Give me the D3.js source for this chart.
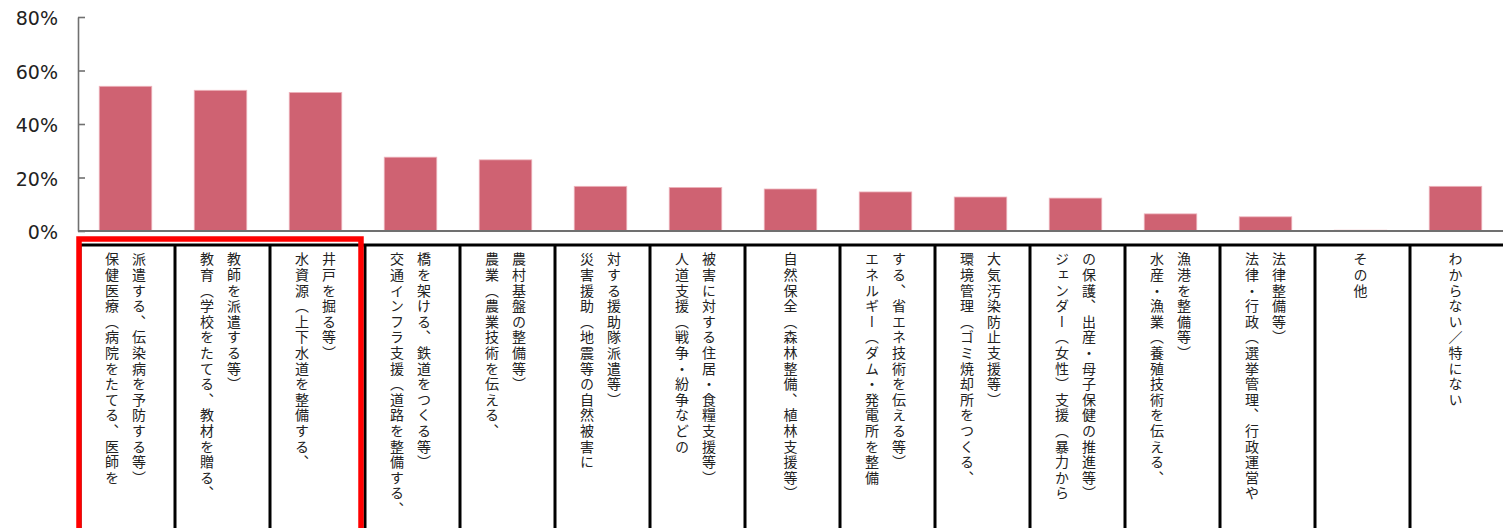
<!DOCTYPE html>
<html>
<head>
<meta charset="utf-8">
<script src="https://cdn.jsdelivr.net/npm/d3@7"></script>
<style>
  html, body { margin: 0; padding: 0; background: #fff; }
  svg { display: block; }
  .axis text { font-family: "DejaVu Sans", Verdana, sans-serif; font-size: 19px; fill: #222; }
  .axis path, .axis line { stroke: #707070; stroke-width: 1.6; }
  .lbl { font-family: "Noto Sans CJK JP", sans-serif; font-size: 14px; fill: #222; }
</style>
</head>
<body>
<div id="chart"></div>
<script>
// categories (each label broken into its columns, left column first)
var labels = [
  ["保健医療（病院をたてる、医師を", "派遣する、伝染病を予防する等）"],
  ["教育（学校をたてる、教材を贈る、", "教師を派遣する等）"],
  ["水資源（上下水道を整備する、", "井戸を掘る等）"],
  ["交通インフラ支援（道路を整備する、", "橋を架ける、鉄道をつくる等）"],
  ["農業（農業技術を伝える、", "農村基盤の整備等）"],
  ["災害援助（地震等の自然被害に", "対する援助隊派遣等）"],
  ["人道支援（戦争・紛争などの", "被害に対する住居・食糧支援等）"],
  ["自然保全（森林整備、植林支援等）"],
  ["エネルギー（ダム・発電所を整備", "する、省エネ技術を伝える等）"],
  ["環境管理（ゴミ焼却所をつくる、", "大気汚染防止支援等）"],
  ["ジェンダー（女性）支援（暴力から", "の保護、出産・母子保健の推進等）"],
  ["水産・漁業（養殖技術を伝える、", "漁港を整備等）"],
  ["法律・行政（選挙管理、行政運営や", "法律整備等）"],
  ["その他"],
  ["わからない／特にない"]
];
var values = [54.1, 52.6, 51.8, 27.6, 26.6, 16.7, 16.3, 15.7, 14.6, 12.7, 12.3, 6.4, 5.3, 0.3, 16.7];
var yTicks = [0, 20, 40, 60, 80];
var highlighted = [0, 1, 2];

var svgWidth = 1503, svgHeight = 528;
var margin = {top: 17, left: 78, axisBottom: 231};

var svg = d3.select("#chart").append("svg")
  .attr("width", svgWidth)
  .attr("height", svgHeight);

var idx = values.map(function(d, i) { return i; });

var x = d3.scaleBand()
  .domain(idx)
  .range([margin.left, svgWidth])
  .paddingInner(0.447)
  .paddingOuter(0.2235);

var step = x.step();
var y = d3.scaleLinear()
  .domain([0, 80])
  .range([margin.axisBottom, margin.top]);

// bars
svg.append("g").selectAll("rect")
  .data(values)
  .enter().append("rect")
  .attr("x", function(d, i) { return x(i); })
  .attr("y", function(d) { return y(d); })
  .attr("width", x.bandwidth())
  .attr("height", function(d) { return y(0) - y(d); })
  .style("fill", "#cf6272")
  .style("stroke", "#eeb4bc")
  .style("stroke-width", 0.8);

// y axis
svg.append("g")
  .attr("class", "axis")
  .attr("transform", "translate(" + margin.left + ",0)")
  .call(d3.axisLeft(y).tickValues(yTicks).tickFormat(function(d) { return d + "%"; })
    .tickSizeInner(-7).tickSizeOuter(0).tickPadding(20))
  .selectAll("text").attr("dy", "0.4em");

// baseline
svg.append("line")
  .attr("x1", margin.left).attr("x2", svgWidth)
  .attr("y1", y(0)).attr("y2", y(0))
  .style("stroke", "#707070").style("stroke-width", 2);

// label table
var tableTop = 245;
var cellLeft = function(i) { return x(i) - x.step() * x.paddingInner() / 2; };

svg.append("line")
  .attr("x1", cellLeft(0) + 2).attr("x2", svgWidth)
  .attr("y1", tableTop).attr("y2", tableTop)
  .style("stroke", "#000").style("stroke-width", 3);

svg.append("g").selectAll("line")
  .data(idx)
  .enter().append("line")
  .attr("x1", function(i) { return cellLeft(i) + 2; })
  .attr("x2", function(i) { return cellLeft(i) + 2; })
  .attr("y1", tableTop).attr("y2", svgHeight)
  .style("stroke", "#000").style("stroke-width", 3);

var colGap = 27;
var cells = svg.append("g").selectAll("g")
  .data(labels)
  .enter().append("g");

cells.selectAll("text")
  .data(function(d, i) {
    return d.map(function(t, j) { return {t: t, j: j, n: d.length, i: i}; });
  })
  .enter().append("text")
  .attr("class", "lbl")
  .attr("x", function(d) { return x(d.i) + x.bandwidth() / 2 + (d.j - (d.n - 1) / 2) * colGap; })
  .attr("y", 252)
  .style("writing-mode", "vertical-rl")
  .style("letter-spacing", "1.6px")
  .text(function(d) { return d.t; });

// highlight box round the top three
var h0 = highlighted[0], h1 = highlighted[highlighted.length - 1];
svg.append("rect")
  .attr("x", cellLeft(h0) + 1)
  .attr("y", 239)
  .attr("width", cellLeft(h1) + step - cellLeft(h0) - 3)
  .attr("height", 320)
  .style("fill", "none")
  .style("stroke", "#ff0000")
  .style("stroke-width", 5.5);
</script>
</body>
</html>
